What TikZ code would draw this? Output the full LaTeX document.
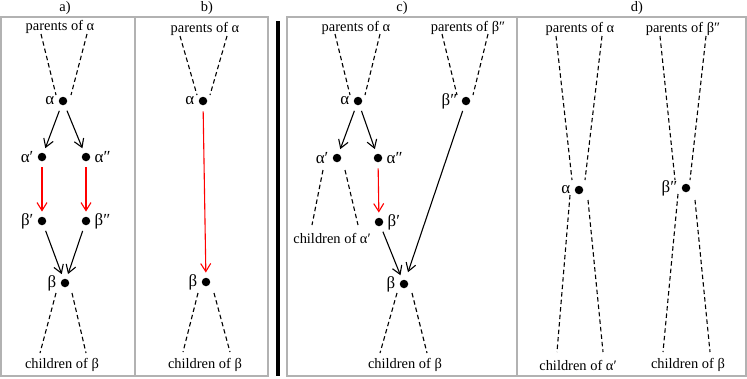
\documentclass[tikz,border=0pt]{standalone}
\usepackage{fontspec}
\setmainfont{Liberation Serif}
\usetikzlibrary{arrows.meta}

\begin{document}
\begin{tikzpicture}[x=1bp,y=-1bp,font=\fontsize{14.5}{16}\selectfont,
  panel/.style={draw=black!30,line width=1.3bp},
  vertex/.style={circle,fill=black,inner sep=0pt,minimum size=8.5bp},
  greek/.style={font=\fontsize{17}{19}\selectfont,inner sep=1bp},
  kin/.style={inner sep=1bp},
  link/.style={line width=1.1bp,dash pattern=on 4.5bp off 3bp},
  descend/.style={-{Straight Barb[length=8bp,width=10bp]},line width=1.1bp,shorten <=6bp,shorten >=5bp},
  reroute/.style={descend,draw=red},
  label distance=3bp]
\useasboundingbox (0,0) rectangle (747,378);

% panel frames
\draw[panel] (1,17) rectangle (135,376);
\draw[panel] (135,17) rectangle (268,376);
\draw[panel] (287,17) rectangle (517,376);
\draw[panel] (517,17) rectangle (746,376);
\draw[line width=3.5bp] (278,21) -- (278,376);
\node (ta) at (65,8) {a)};
\node (tb) at (207,8) {b)};
\node (tc) at (402,8) {c)};
\node (td) at (637,8) {d)};

% a)
\node[kin] (a-par) at (60,27) {parents of α};
\node[kin] (a-chi) at (62,365) {children of β};
\node[vertex,label={[greek]left:α}] (a-al) at (63,101) {};
\node[vertex,label={[greek]left:α′}] (a-al1) at (42,157) {};
\node[vertex,label={[greek]right:α″}] (a-al2) at (86,157) {};
\node[vertex,label={[greek]left:β′}] (a-be1) at (42,221) {};
\node[vertex,label={[greek]right:β″}] (a-be2) at (86,221) {};
\node[vertex,label={[greek]left:β}] (a-be) at (65,283) {};
\coordinate (a-p1) at (41,34); \coordinate (a-p2) at (87,34);
\coordinate (a-q1) at (56,95); \coordinate (a-q2) at (71,95);
\coordinate (a-r1) at (56,293); \coordinate (a-r2) at (72,293);
\coordinate (a-s1) at (40,353); \coordinate (a-s2) at (86,353);
\draw[link] (a-p1) -- (a-q1);
\draw[link] (a-p2) -- (a-q2);
\draw[link] (a-r1) -- (a-s1);
\draw[link] (a-r2) -- (a-s2);
\draw[descend] (a-al) -- (a-al1);
\draw[descend] (a-al) -- (a-al2);
\draw[reroute] (a-al1) -- (a-be1);
\draw[reroute] (a-al2) -- (a-be2);
\draw[descend] (a-be1) -- (a-be);
\draw[descend] (a-be2) -- (a-be);

% b)
\node[kin] (b-par) at (205,29) {parents of α};
\node[kin] (b-chi) at (205,365) {children of β};
\node[vertex,label={[greek]left:α}] (b-al) at (203,101) {};
\node[vertex,label={[greek]left:β}] (b-be) at (206,282) {};
\coordinate (b-p1) at (180,36); \coordinate (b-p2) at (227,36);
\coordinate (b-q1) at (197,95); \coordinate (b-q2) at (210,95);
\coordinate (b-r1) at (198,293); \coordinate (b-r2) at (214,293);
\coordinate (b-s1) at (183,352); \coordinate (b-s2) at (230,352);
\draw[link] (b-p1) -- (b-q1);
\draw[link] (b-p2) -- (b-q2);
\draw[link] (b-r1) -- (b-s1);
\draw[link] (b-r2) -- (b-s2);
\draw[reroute] (b-al) -- (b-be);

% c)
\node[kin] (c-par) at (356,28) {parents of α};
\node[kin] (c-parb) at (468,28) {parents of β″};
\node[kin] (c-chia) at (332,238) {children of α′};
\node[kin] (c-chi) at (405,365) {children of β};
\node[vertex,label={[greek]left:α}] (c-al) at (358,101) {};
\node[vertex,label={[greek]left:α′}] (c-al1) at (337,158) {};
\node[vertex,label={[greek]right:α″}] (c-al2) at (378,158) {};
\node[vertex,label={[greek]right:β′}] (c-be1) at (379,222) {};
\node[vertex,label={[greek]left:β″}] (c-be2) at (466,101) {};
\node[vertex,label={[greek]left:β}] (c-be) at (404,284) {};
\coordinate (c-p1) at (335,34); \coordinate (c-p2) at (380,34);
\coordinate (c-q1) at (350,95); \coordinate (c-q2) at (365,95);
\coordinate (c-p3) at (442,34); \coordinate (c-p4) at (488,34);
\coordinate (c-q3) at (457,95); \coordinate (c-q4) at (473,95);
\coordinate (c-u1) at (323,170); \coordinate (c-u2) at (345,170);
\coordinate (c-v1) at (312,225); \coordinate (c-v2) at (358,225);
\coordinate (c-r1) at (397,293); \coordinate (c-r2) at (412,293);
\coordinate (c-s1) at (380,353); \coordinate (c-s2) at (427,353);
\draw[link] (c-p1) -- (c-q1);
\draw[link] (c-p2) -- (c-q2);
\draw[link] (c-p3) -- (c-q3);
\draw[link] (c-p4) -- (c-q4);
\draw[link] (c-u1) -- (c-v1);
\draw[link] (c-u2) -- (c-v2);
\draw[link] (c-r1) -- (c-s1);
\draw[link] (c-r2) -- (c-s2);
\draw[descend] (c-al) -- (c-al1);
\draw[descend] (c-al) -- (c-al2);
\draw[reroute] (c-al2) -- (c-be1);
\draw[descend] (c-be1) -- (c-be);
\draw[descend,shorten >=8bp] (c-be2) -- (c-be);

% d)
\node[kin] (d-par) at (580,29) {parents of α};
\node[kin] (d-parb) at (683,29) {parents of β″};
\node[kin] (d-chia) at (578,365) {children of α′};
\node[kin] (d-chi) at (688,365) {children of β};
\node[vertex,label={[greek]left:α}] (d-al) at (579,190) {};
\node[vertex,label={[greek]left:β″}] (d-be2) at (686,188) {};
\coordinate (d-p1) at (556,36); \coordinate (d-q1) at (572,180);
\coordinate (d-p2) at (602,36); \coordinate (d-q2) at (585,180);
\coordinate (d-r1) at (570,195); \coordinate (d-s1) at (557,352);
\coordinate (d-r2) at (588,200); \coordinate (d-s2) at (603,352);
\coordinate (d-p3) at (660,36); \coordinate (d-q3) at (675,180);
\coordinate (d-p4) at (706,36); \coordinate (d-q4) at (690,180);
\coordinate (d-r3) at (678,194); \coordinate (d-s3) at (663,352);
\coordinate (d-r4) at (695,200); \coordinate (d-s4) at (710,352);
\draw[link] (d-p1) -- (d-q1);
\draw[link] (d-p2) -- (d-q2);
\draw[link] (d-r1) -- (d-s1);
\draw[link] (d-r2) -- (d-s2);
\draw[link] (d-p3) -- (d-q3);
\draw[link] (d-p4) -- (d-q4);
\draw[link] (d-r3) -- (d-s3);
\draw[link] (d-r4) -- (d-s4);
\end{tikzpicture}
\end{document}
